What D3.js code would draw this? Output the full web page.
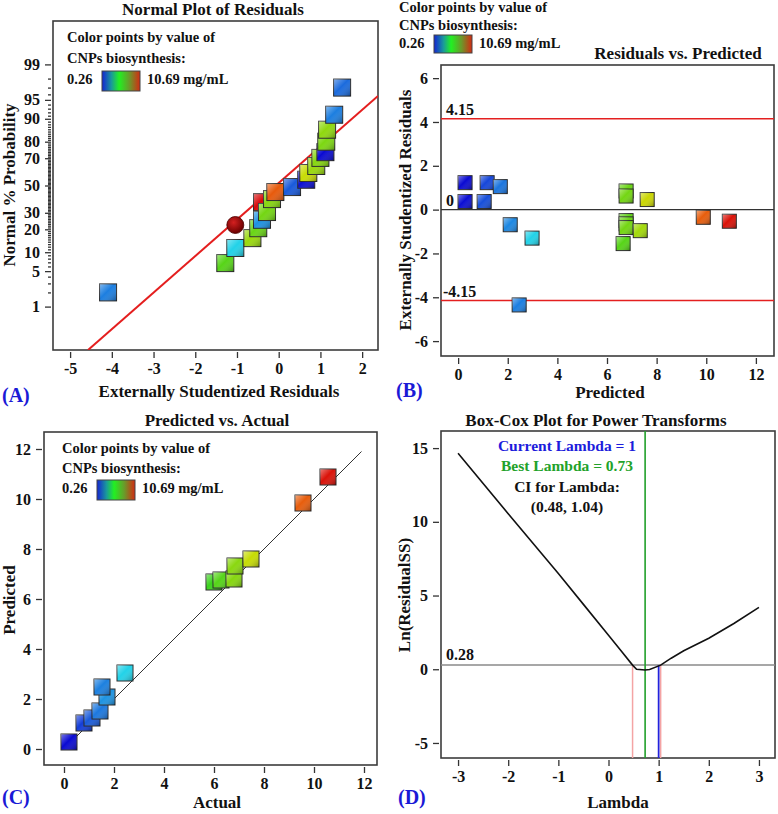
<!DOCTYPE html>
<html>
<head>
<meta charset="utf-8">
<script src="https://cdn.jsdelivr.net/npm/d3@7"></script>
<style>
  body { margin: 0; background: #fff; }
  svg text { font-family: "Liberation Serif", "Times New Roman", serif; font-weight: bold; fill: #111; }
  .frame { fill: none; stroke: #3c3c3c; stroke-width: 1.6; }
  .tick line { stroke: #333; stroke-width: 1.3; }
  .tick text { font-size: 16px; font-family: "Liberation Serif", serif; font-weight: bold; fill: #111; }
  .mark { stroke: #2a2a2a; stroke-width: 1; }
</style>
</head>
<body>
<svg id="chart"></svg>
<script>
const WIDTH = 778, HEIGHT = 814;

// colour by value of CNPs biosynthesis (mg/mL)
const colorValues = [0.26, 1.2, 2.4, 6.0, 7.5, 9.5, 10.69];
const colorHex    = ['#0a0ad2', '#1a62dc', '#22d2ea', '#3ad21c', '#c8dc04', '#e8620c', '#d80808'];
const legendOffsets = [0, 0.25, 0.45, 0.72, 1];
const legendHex     = ['#1424d4', '#1a9a9a', '#22f022', '#6a9a2a', '#d42a12'];

// (A) normal plot of residuals
const normResid = [-0.40, -4.09, -1.28, -1.04, -0.63, -0.49, -0.40, -0.28, -0.16, -0.08, 0.32, 0.66, 0.71, 0.90, 1.00, 1.12, 1.14, 1.16, 1.33, 1.52];
const normProb  = [37.4, 2.0, 6.8, 11.5, 15.6, 20.6, 25.5, 30.5, 39.7, 45.0, 48.8, 54.4, 59.5, 64.6, 70.2, 73.9, 80.0, 85.8, 91.3, 97.0];
const normValue = [10.69, 1.5, 6.3, 2.44, 7.0, 6.5, 1.7, 6.6, 6.8, 9.6, 1.1, 0.3, 7.5, 7.0, 6.8, 0.26, 6.7, 6.9, 1.5, 1.3];
const normCircle = { resid: -1.04, prob: 22.4 };
const normFitResid = [-4.57, 2.38];
const normFitZ     = [-3.16, 1.72];
const probTicks  = [1, 5, 10, 20, 30, 50, 70, 80, 90, 95, 99];
const residTicks = [-5, -4, -3, -2, -1, 0, 1, 2];

// (B) residuals vs predicted
const rvpPredicted = [0.28, 0.28, 1.17, 1.05, 1.70, 2.10, 2.98, 2.46, 6.77, 6.77, 7.62, 6.77, 6.77, 6.77, 7.34, 6.65, 9.88, 10.93];
const rvpResidual  = [1.23, 0.37, 1.23, 0.37, 1.05, -0.69, -1.30, -4.35, 0.85, 0.62, 0.46, -0.50, -0.65, -0.82, -0.96, -1.55, -0.35, -0.53];
const rvpValue     = [0.26, 0.3, 0.9, 1.0, 1.4, 1.6, 2.44, 1.5, 6.5, 6.6, 7.6, 6.4, 6.5, 6.6, 7.1, 6.3, 9.56, 10.56];
const rvpLimit = 4.15;
const rvpXTicks = [0, 2, 4, 6, 8, 10, 12];
const rvpYTicks = [-6, -4, -2, 0, 2, 4, 6];

// (C) predicted vs actual
const pvaActual    = [0.2, 0.8, 1.12, 1.44, 1.72, 1.52, 2.44, 6.0, 6.28, 6.8, 6.84, 7.48, 9.56, 10.56];
const pvaPredicted = [0.28, 1.04, 1.24, 1.52, 2.08, 2.48, 3.04, 6.68, 6.76, 6.8, 7.32, 7.6, 9.84, 10.88];
const pvaDiag = [0.1, 11.9];
const pvaTicks = [0, 2, 4, 6, 8, 10, 12];

// (D) Box-Cox
const bcLambda = [-3, -2, -1, -0.5, 0, 0.25, 0.48, 0.56, 0.73, 0.82, 1.04, 1.25, 1.5, 2.0, 2.5, 3.0];
const bcLnRSS  = [14.65, 10.55, 6.5, 4.4, 2.3, 1.25, 0.28, 0.0, -0.05, -0.02, 0.28, 0.75, 1.25, 2.1, 3.1, 4.2];
const bcCI = [0.48, 1.04];
const bcBest = 0.73, bcCurrent = 1, bcLevel = 0.28;
const bcXTicks = [-3, -2, -1, 0, 1, 2, 3];
const bcYTicks = [-5, 0, 5, 10, 15];

const color = d3.scaleLinear().domain(colorValues).range(colorHex).clamp(true);

const svg = d3.select('#chart').attr('width', WIDTH).attr('height', HEIGHT);
svg.append('rect').attr('width', WIDTH).attr('height', HEIGHT).attr('fill', '#fff');

const defs = svg.append('defs');
const shade = defs.append('linearGradient').attr('id', 'shade')
  .attr('x1', 0).attr('y1', 0).attr('x2', 1).attr('y2', 1);
shade.append('stop').attr('offset', '0%').attr('stop-color', '#fff').attr('stop-opacity', 0.45);
shade.append('stop').attr('offset', '45%').attr('stop-color', '#fff').attr('stop-opacity', 0);
shade.append('stop').attr('offset', '100%').attr('stop-color', '#000').attr('stop-opacity', 0.35);

const ball = defs.append('radialGradient').attr('id', 'ball').attr('cx', '40%').attr('cy', '35%').attr('r', '65%');
ball.append('stop').attr('offset', '0%').attr('stop-color', '#d42020');
ball.append('stop').attr('offset', '100%').attr('stop-color', '#6a0000');

const legGrad = defs.append('linearGradient').attr('id', 'legend');
legGrad.selectAll('stop').data(legendOffsets).join('stop')
  .attr('offset', d => d * 100 + '%')
  .attr('stop-color', (d, i) => legendHex[i]);

const fmt = d => String(d);

function panel(cfg) {
  const g = svg.append('g');
  const x = d3.scaleLinear().domain(cfg.xDomain).range([cfg.left, cfg.right]);
  const y = d3.scaleLinear().domain(cfg.yDomain).range([cfg.bottom, cfg.top]);

  g.append('g')
    .attr('transform', 'translate(0,' + (cfg.bottom + 2) + ')')
    .call(d3.axisBottom(x).tickValues(cfg.xTicks).tickSize(6).tickSizeOuter(0).tickPadding(5).tickFormat(fmt))
    .call(a => a.select('.domain').remove());

  if (cfg.yTicks) {
    g.append('g')
      .attr('transform', 'translate(' + (cfg.left - 2) + ',0)')
      .call(d3.axisLeft(y).tickValues(cfg.yTicks).tickSize(6).tickSizeOuter(0).tickPadding(5).tickFormat(fmt))
      .call(a => a.select('.domain').remove());
  }

  g.append('rect').attr('class', 'frame')
    .attr('x', cfg.left).attr('y', cfg.top)
    .attr('width', cfg.right - cfg.left).attr('height', cfg.bottom - cfg.top);

  g.append('text').attr('x', cfg.titleX).attr('y', cfg.titleY)
    .attr('text-anchor', 'middle').style('font-size', '17px').text(cfg.title);
  g.append('text').attr('x', cfg.xLabelX).attr('y', cfg.xLabelY)
    .attr('text-anchor', 'middle').style('font-size', '17px').text(cfg.xLabel);
  g.append('text')
    .attr('transform', 'translate(' + cfg.yLabelX + ',' + cfg.yLabelY + ') rotate(-90)')
    .attr('text-anchor', 'middle').style('font-size', '17px').text(cfg.yLabel);
  g.append('text').attr('x', cfg.tagX).attr('y', cfg.tagY)
    .style('font-size', '20px').style('fill', '#1a1ad6').text(cfg.tag);

  const clipId = 'clip' + cfg.tag.replace(/\W/g, '');
  defs.append('clipPath').attr('id', clipId).append('rect')
    .attr('x', cfg.left).attr('y', cfg.top)
    .attr('width', cfg.right - cfg.left).attr('height', cfg.bottom - cfg.top);
  const plot = g.append('g').attr('clip-path', 'url(#' + clipId + ')');
  return { g, plot, x, y };
}

function legend(g, x, y, gap, barH) {
  g.append('text').attr('x', x).attr('y', y).style('font-size', '14.5px').text('Color points by value of');
  g.append('text').attr('x', x).attr('y', y + gap).style('font-size', '14.5px').text('CNPs biosynthesis:');
  g.append('text').attr('x', x).attr('y', y + 2 * gap + 1).style('font-size', '14.5px').text('0.26');
  g.append('rect').attr('x', x + 35).attr('y', y + 2 * gap - 12).attr('width', 38).attr('height', barH)
    .attr('fill', 'url(#legend)').attr('stroke', '#444').attr('stroke-width', 1);
  g.append('text').attr('x', x + 80).attr('y', y + 2 * gap + 1).style('font-size', '14.5px').text('10.69 mg/mL');
}

function squares(plot, xs, ys, vals, size) {
  const sel = plot.selectAll('g.sq').data(xs).join('g').attr('class', 'sq')
    .attr('transform', (d, i) => 'translate(' + (xs[i] - size / 2) + ',' + (ys[i] - size / 2) + ')');
  sel.append('rect').attr('class', 'mark').attr('width', size).attr('height', size).attr('fill', (d, i) => color(vals[i]));
  sel.append('rect').attr('width', size).attr('height', size).attr('fill', 'url(#shade)');
}

// inverse normal CDF (Acklam)
function probit(p) {
  const a = [-39.69683028665376, 220.9460984245205, -275.9285104469687, 138.3577518672690, -30.66479806614716, 2.506628277459239];
  const b = [-54.47609879822406, 161.5858368580409, -155.6989798598866, 66.80131188771972, -13.28068155211317];
  const c = [-0.007784894002430293, -0.3223964580411365, -2.400758277161838, -2.549732539343734, 4.374664141464968, 2.938163982698783];
  const d = [0.007784695709041462, 0.3224671290700398, 2.445134137142996, 3.754408661907416];
  const lo = 0.02425, hi = 1 - lo;
  let q, r;
  if (p < lo) {
    q = Math.sqrt(-2 * Math.log(p));
    return (((((c[0]*q+c[1])*q+c[2])*q+c[3])*q+c[4])*q+c[5]) / ((((d[0]*q+d[1])*q+d[2])*q+d[3])*q+1);
  }
  if (p > hi) {
    q = Math.sqrt(-2 * Math.log(1 - p));
    return -(((((c[0]*q+c[1])*q+c[2])*q+c[3])*q+c[4])*q+c[5]) / ((((d[0]*q+d[1])*q+d[2])*q+d[3])*q+1);
  }
  q = p - 0.5; r = q * q;
  return (((((a[0]*r+a[1])*r+a[2])*r+a[3])*r+a[4])*r+a[5])*q / (((((b[0]*r+b[1])*r+b[2])*r+b[3])*r+b[4])*r+1);
}
const zOf = p => probit(p / 100);

// ---------- (A)
const A = panel({
  left: 53, right: 378, top: 21, bottom: 350,
  xDomain: [-5.41, 2.38], yDomain: [-3.16, 3.16], xTicks: residTicks,
  title: 'Normal Plot of Residuals', titleX: 213, titleY: 15,
  xLabel: 'Externally Studentized Residuals', xLabelX: 219, xLabelY: 397,
  yLabel: 'Normal % Probability', yLabelX: 15, yLabelY: 185,
  tag: '(A)', tagX: 2, tagY: 402
});
A.g.append('g').attr('transform', 'translate(51,0)')
  .call(d3.axisLeft(A.y).tickValues(d3.range(1, 100).filter(p => !probTicks.includes(p)).map(zOf)).tickSize(3).tickSizeOuter(0).tickFormat(''))
  .call(a => a.select('.domain').remove());
A.g.append('g').attr('transform', 'translate(51,0)')
  .call(d3.axisLeft(A.y).tickValues(probTicks.map(zOf)).tickSize(6).tickSizeOuter(0).tickPadding(5).tickFormat((d, i) => probTicks[i]))
  .call(a => a.select('.domain').remove());
legend(A.g, 67, 42, 20.5, 20);
A.plot.append('line')
  .attr('x1', A.x(normFitResid[0])).attr('y1', A.y(normFitZ[0]))
  .attr('x2', A.x(normFitResid[1])).attr('y2', A.y(normFitZ[1]))
  .attr('stroke', '#e41e1e').attr('stroke-width', 2);
A.plot.append('circle')
  .attr('cx', A.x(normCircle.resid)).attr('cy', A.y(zOf(normCircle.prob))).attr('r', 8.5)
  .attr('fill', 'url(#ball)').attr('stroke', '#4a0000').attr('stroke-width', 0.8);
squares(A.plot, normResid.map(A.x), normProb.map(p => A.y(zOf(p))), normValue, 17);

// ---------- (B)
const B = panel({
  left: 441, right: 774, top: 65, bottom: 356,
  xDomain: [-0.69, 12.73], yDomain: [-6.68, 6.6], xTicks: rvpXTicks, yTicks: rvpYTicks,
  title: 'Residuals vs. Predicted', titleX: 678, titleY: 59,
  xLabel: 'Predicted', xLabelX: 610, xLabelY: 398,
  yLabel: 'Externally Studentized Residuals', yLabelX: 411, yLabelY: 210,
  tag: '(B)', tagX: 396, tagY: 397
});
legend(B.g, 399, 12, 17.5, 18);
[rvpLimit, -rvpLimit].forEach(v => {
  B.plot.append('line').attr('x1', 441).attr('x2', 774).attr('y1', B.y(v)).attr('y2', B.y(v))
    .attr('stroke', '#e42020').attr('stroke-width', 1.5);
});
B.plot.append('line').attr('x1', 441).attr('x2', 774).attr('y1', B.y(0)).attr('y2', B.y(0))
  .attr('stroke', '#333').attr('stroke-width', 1.3);
B.g.append('text').attr('x', 446).attr('y', B.y(rvpLimit) - 4).style('font-size', '16px').text(String(rvpLimit));
B.g.append('text').attr('x', 446).attr('y', B.y(0) - 4).style('font-size', '16px').text('0');
B.g.append('text').attr('x', 443).attr('y', B.y(-rvpLimit) - 4).style('font-size', '16px').text(String(-rvpLimit));
squares(B.plot, rvpPredicted.map(B.x), rvpResidual.map(B.y), rvpValue, 14);

// ---------- (C)
const C = panel({
  left: 44, right: 377, top: 432, bottom: 765,
  xDomain: [-0.8, 12.52], yDomain: [-0.64, 12.68], xTicks: pvaTicks, yTicks: pvaTicks,
  title: 'Predicted vs. Actual', titleX: 217, titleY: 426,
  xLabel: 'Actual', xLabelX: 217, xLabelY: 808,
  yLabel: 'Predicted', yLabelX: 15, yLabelY: 600,
  tag: '(C)', tagX: 2, tagY: 804
});
legend(C.g, 62, 453, 19.5, 20);
C.plot.append('line')
  .attr('x1', C.x(pvaDiag[0])).attr('y1', C.y(pvaDiag[0]))
  .attr('x2', C.x(pvaDiag[1])).attr('y2', C.y(pvaDiag[1]))
  .attr('stroke', '#333').attr('stroke-width', 1);
squares(C.plot, pvaActual.map(C.x), pvaPredicted.map(C.y), pvaActual, 16);

// ---------- (D)
const D = panel({
  left: 441, right: 775, top: 431, bottom: 758,
  xDomain: [-3.34, 3.32], yDomain: [-6.02, 16.16], xTicks: bcXTicks, yTicks: bcYTicks,
  title: 'Box-Cox Plot for Power Transforms', titleX: 596, titleY: 426,
  xLabel: 'Lambda', xLabelX: 618, xLabelY: 808,
  yLabel: 'Ln(ResidualSS)', yLabelX: 410, yLabelY: 595,
  tag: '(D)', tagX: 398, tagY: 804
});
D.plot.append('line').attr('x1', 441).attr('x2', 775).attr('y1', D.y(bcLevel)).attr('y2', D.y(bcLevel))
  .attr('stroke', '#8a8a8a').attr('stroke-width', 1.5);
D.plot.append('line').attr('x1', D.x(bcCI[0])).attr('x2', D.x(bcCI[0])).attr('y1', 758).attr('y2', D.y(bcLevel))
  .attr('stroke', '#f4a4a4').attr('stroke-width', 1.5);
D.plot.append('line').attr('x1', D.x(bcCurrent)).attr('x2', D.x(bcCurrent)).attr('y1', 758).attr('y2', D.y(bcLevel))
  .attr('stroke', '#2222dd').attr('stroke-width', 1.8);
D.plot.append('line').attr('x1', D.x(bcCI[1])).attr('x2', D.x(bcCI[1])).attr('y1', 758).attr('y2', D.y(bcLevel))
  .attr('stroke', '#f4a4a4').attr('stroke-width', 1.5);
D.plot.append('line').attr('x1', D.x(bcBest)).attr('x2', D.x(bcBest)).attr('y1', 758).attr('y2', 431)
  .attr('stroke', '#22a02a').attr('stroke-width', 1.6);
D.plot.append('path')
  .datum(bcLambda)
  .attr('d', d3.line().x(d => D.x(d)).y((d, i) => D.y(bcLnRSS[i])))
  .attr('fill', 'none').attr('stroke', '#111').attr('stroke-width', 1.6);
D.g.append('text').attr('x', 446).attr('y', D.y(bcLevel) - 5).style('font-size', '16px').text(String(bcLevel));
const bcText = [
  ['Current Lambda = ' + bcCurrent, '#1c1cdc'],
  ['Best Lambda = ' + bcBest, '#22a22a'],
  ['CI for Lambda:', '#111'],
  ['(' + bcCI[0] + ', ' + bcCI[1] + ')', '#111']
];
D.g.selectAll('text.info').data(bcText).join('text').attr('class', 'info')
  .attr('x', 567).attr('y', (d, i) => 451 + i * 20.3)
  .attr('text-anchor', 'middle').style('font-size', '15.5px')
  .style('fill', d => d[1]).text(d => d[0]);
</script>
</body>
</html>
